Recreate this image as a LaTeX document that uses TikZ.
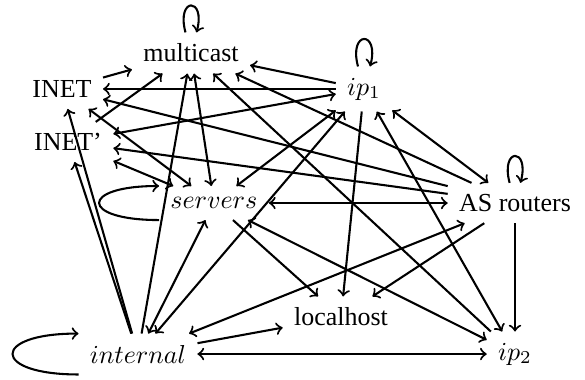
\documentclass[tikz,border=0pt]{standalone}
\usepackage[no-math]{fontspec}
\setmainfont{Liberation Serif}
\begin{document}
\begin{tikzpicture}[>=to, thick, every node/.style={inner sep=4pt}]
\useasboundingbox (0,0) rectangle (7.915,5.128);

% Noeuds
  \node (multicast) at (2.584,4.411) {multicast};
  \node (inet) at (0.839,3.924) {INET};
  \node (inetp) at (0.920,3.207) {INET'};
  \node (ipone) at (4.925,3.924) {$ip_1$};
  \node (servers) at (2.895,2.381) {$servers$};
  \node (asr) at (6.968,2.381) {AS routers};
  \node (localhost) at (4.614,0.839) {localhost};
  \node (internal) at (1.867,0.338) {$internal$};
  \node (iptwo) at (6.968,0.338) {$ip_2$};

% Boucles
  \draw[->] (multicast) to[loop above] (multicast);
  \draw[->] (ipone) to[loop above] (ipone);
  \draw[->] (asr) to[loop above] (asr);
  \draw[->] (servers.south west) to[out=180,in=180,looseness=6] (servers.north west);
  \draw[->] (internal.south west) to[out=180,in=180,looseness=5.5] (internal.north west);

% Une seule fleche
  \foreach \a/\b in {inet/multicast, inetp/multicast, internal/multicast, iptwo/multicast,
    asr/multicast, ipone/multicast, ipone/inet, asr/inet, internal/inet, asr/inetp,
    internal/inetp, servers/localhost, ipone/localhost, asr/localhost,
    internal/localhost, asr/iptwo}
  \draw[->] (\a) -- (\b);

% Deux fleches
  \foreach \a/\b in {multicast/servers, inet/servers, inetp/servers, inetp/ipone,
    ipone/servers, servers/asr, servers/iptwo, internal/servers, internal/ipone,
    ipone/iptwo, ipone/asr, internal/asr, internal/iptwo}
  \draw[<->] (\a) -- (\b);

\end{tikzpicture}
\end{document}
